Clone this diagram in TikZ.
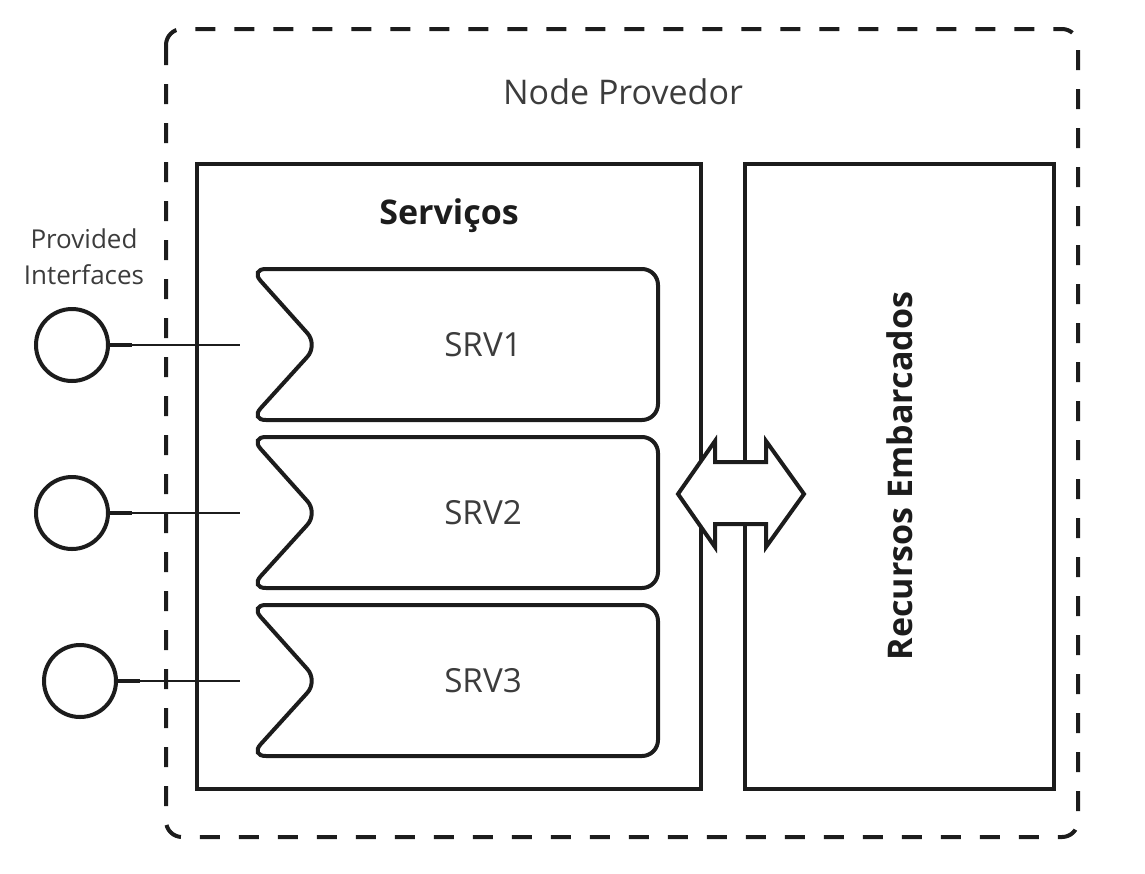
\documentclass[tikz,border=0pt]{standalone}
\usepackage{fontspec}
\setmainfont{Open Sans}
\definecolor{ink}{HTML}{1C1C1C}
\definecolor{soft}{HTML}{3C3C3C}
\begin{document}
\begin{tikzpicture}[x=0.5pt,y=-0.5pt,
  frame/.style={draw=ink,line width=2.3pt},
  srvbox/.style={draw=ink,line width=2pt,rounded corners=8pt},
  iface/.style={circle,draw=ink,line width=2pt,minimum size=36pt,inner sep=0pt},
  wire/.style={draw=ink,line width=1pt},
  stub/.style={draw=ink,line width=2.2pt},
  srvname/.style={text=soft,font=\fontsize{16.6}{19}\selectfont}]
\useasboundingbox (0,0) rectangle (1145,873);
\draw[ink,line width=2pt,rounded corners=8pt,dash pattern=on 10pt off 9.5pt] (166,29) rectangle (1078,837);
\node[text=soft,font=\fontsize{17}{20}\selectfont] (title) at (623,92) {Node Provedor};
\draw[frame] (197,164) rectangle (701,789);
\draw[frame] (745,164) rectangle (1054,789);
\node[text=ink,font=\fontsize{17}{20}\selectfont\bfseries] (svc) at (449,216) {Serviços};
\node[text=ink,rotate=90,font=\fontsize{17}{20}\selectfont\bfseries] (res) at (900,476) {Recursos Embarcados};
\node[text=soft,align=center,font=\fontsize{13}{18}\selectfont] (prov) at (84,257) {Provided\\Interfaces};
\foreach \i/\y/\cx in {1/345/72,2/513/72,3/681/80}{
  \draw[srvbox] (250,\y-76) -- (658,\y-76) -- (658,\y+75) -- (250,\y+75) -- (318,\y) -- cycle;
  \node[srvname] (srv\i) at (483,\y) {SRV\i};
  \node[iface] (if\i) at (\cx,\y) {};
  \coordinate (end\i) at (240,\y);
  \draw[wire] (if\i.east) -- (end\i);
  \draw[stub] (if\i.east) -- ++(22,0);
}
\draw[fill=white,draw=ink,line width=2pt] (678,494) -- (715,441) -- (715,462) -- (766,462) -- (766,441) -- (804,494)
  -- (766,547) -- (766,524) -- (715,524) -- (715,547) -- cycle;
\end{tikzpicture}
\end{document}
